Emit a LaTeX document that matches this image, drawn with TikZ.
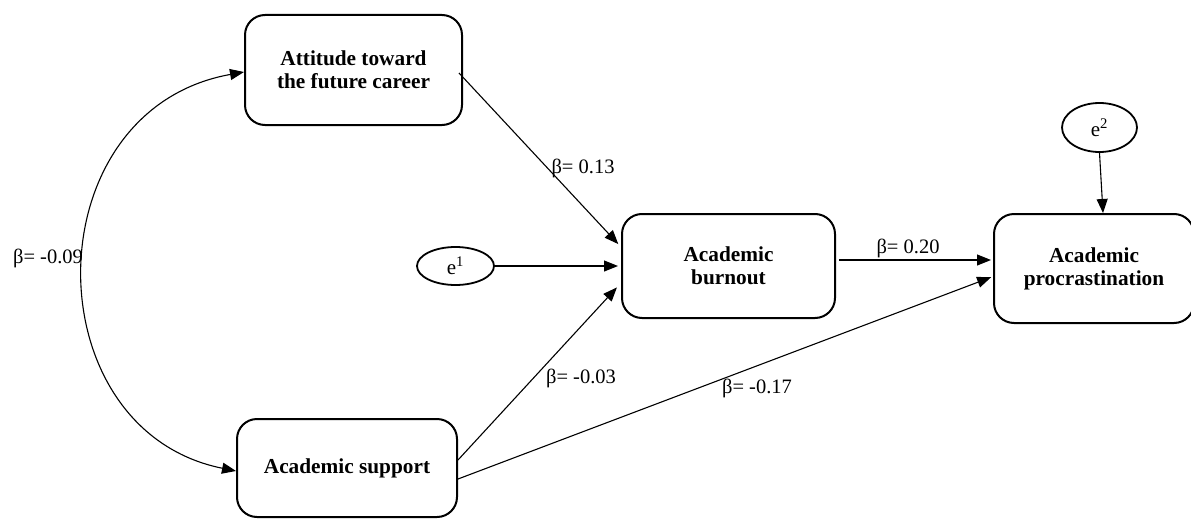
\documentclass[tikz,border=0pt]{standalone}
\usepackage{fontspec}
\setmainfont{Liberation Serif}
\usetikzlibrary{arrows.meta,shapes.geometric,calc}
\begin{document}
\begin{tikzpicture}[x=1pt,y=-1pt,
  box/.style={draw,line width=2pt,rounded corners=20pt,align=center,
    font=\fontsize{21.3}{23}\selectfont\bfseries,inner sep=0pt},
  err/.style={draw,ellipse,line width=1.8pt,inner sep=0pt,font=\fontsize{21}{23}\selectfont},
  lab/.style={font=\fontsize{20.5}{23}\selectfont,inner sep=0pt},
  conn/.style={line width=1.1pt,-{Triangle[length=14pt,width=11pt]}},
  corr/.style={line width=1.1pt,{Triangle[length=14pt,width=11pt]}-{Triangle[length=14pt,width=11pt]}}]
\useasboundingbox (0,0) rectangle (1191,519);
\node[box,minimum width=217pt,minimum height=110pt] (att) at (353.5,70) {Attitude toward\\the future career};
\node[box,minimum width=213pt,minimum height=104pt] (burn) at (728.5,266) {Academic\\burnout};
\node[box,minimum width=200pt,minimum height=109pt] (proc) at (1094,268.5) {Academic\\procrastination};
\node[box,minimum width=220pt,minimum height=98pt] (sup) at (347,468) {Academic support};
\node[err,minimum width=77pt,minimum height=38pt] (e1) at (455.5,266) {e$^{\mathrm{1}}$};
\node[err,minimum width=75pt,minimum height=49pt] (e2) at (1099.5,127.5) {e$^{\mathrm{2}}$};
\node[lab] (l13) at (583,168) {β= 0.13};
\node[lab] (l20) at (908,248) {β= 0.20};
\node[lab] (l03) at (581,378) {β= -0.03};
\node[lab] (l17) at (757,388) {β= -0.17};
\node[lab] (l09) at (48,258) {β= -0.09};
\draw[conn,shorten >=4pt] ([xshift=-4pt,yshift=-3pt]att.east) -- ([yshift=19pt]burn.west);
\draw[conn,shorten >=3pt] (e1.east) -- (burn.west);
\draw[conn,shorten >=6pt] ([yshift=8pt]sup.east) -- ([yshift=-17pt]burn.west);
\draw[conn,shorten >=2pt] ([yshift=-11pt]sup.east) -- ([yshift=-8pt]proc.west);
\draw[conn,shorten >=2pt] ([xshift=3pt,yshift=6pt]burn.east) -- ([yshift=8.5pt]proc.west);
\draw[conn] (e2.south) -- ([xshift=9pt]proc.north);
\draw[corr] ([yshift=-3pt]sup.west) .. controls (32,430) and (32,110) .. ([yshift=-2pt]att.west);
\end{tikzpicture}
\end{document}
